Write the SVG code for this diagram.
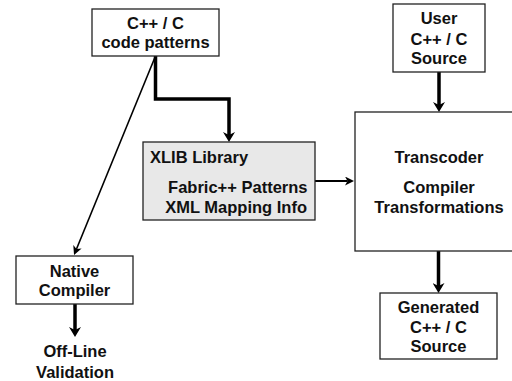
<svg xmlns="http://www.w3.org/2000/svg" width="512" height="381" viewBox="0 0 512 381">
  <defs>
    <style>
      .box { fill: #ffffff; stroke: #222222; stroke-width: 1.3; }
      .lib { fill: #e8e8e8; stroke: #222222; stroke-width: 1.3; }
      .lbl { font-family: "Liberation Sans", Arial, sans-serif; font-weight: bold; font-size: 16.5px; fill: #111111; text-anchor: middle; }
      .thick { fill: none; stroke: #000000; stroke-width: 3.5; }
      .thin { fill: none; stroke: #000000; stroke-width: 1.6; }
      .mid { fill: none; stroke: #000000; stroke-width: 2; }
    </style>
    <marker id="head" viewBox="0 0 10 12" markerWidth="10" markerHeight="12" refX="3" refY="6" orient="auto" markerUnits="userSpaceOnUse">
      <path d="M0,0 L10,6 L0,12 L3,6 z" fill="#000000"/>
    </marker>
    <marker id="head-s" viewBox="0 0 9 9" markerWidth="9" markerHeight="9" refX="2.5" refY="4.5" orient="auto" markerUnits="userSpaceOnUse">
      <path d="M0,0 L9,4.5 L0,9 L2.5,4.5 z" fill="#000000"/>
    </marker>
  </defs>

  <rect width="512" height="381" fill="#ffffff"/>

  <!-- connectors -->
  <g id="connectors">
    <path class="thick" d="M155.5,56 V99 H229 V135" marker-end="url(#head)"/>
    <path class="thin" d="M155.5,56 L76.5,249" marker-end="url(#head-s)"/>
    <path class="mid" d="M315,181 H347.5" marker-end="url(#head-s)"/>
    <path class="thick" d="M439,72 V105" marker-end="url(#head)"/>
    <path class="thick" d="M438.5,251 V286" marker-end="url(#head)"/>
    <path class="thick" d="M75,304 V330" marker-end="url(#head)"/>
  </g>

  <!-- nodes -->
  <g id="code-patterns">
    <rect class="box" x="92" y="9" width="127" height="47"/>
    <text class="lbl" x="155.5" y="29">C++ / C</text>
    <text class="lbl" x="155.5" y="48">code patterns</text>
  </g>

  <g id="user-source">
    <rect class="box" x="393" y="4" width="92" height="68"/>
    <text class="lbl" x="439" y="24">User</text>
    <text class="lbl" x="439" y="45">C++ / C</text>
    <text class="lbl" x="439" y="64">Source</text>
  </g>

  <g id="xlib-library">
    <rect class="lib" x="143" y="142" width="172" height="78"/>
    <text class="lbl" x="150" y="163" style="text-anchor:start">XLIB Library</text>
    <text class="lbl" x="307.5" y="193" style="text-anchor:end">Fabric++ Patterns</text>
    <text class="lbl" x="307" y="213" style="text-anchor:end">XML Mapping Info</text>
  </g>

  <g id="transcoder">
    <rect class="box" x="355" y="112" width="170" height="139"/>
    <text class="lbl" x="439" y="163">Transcoder</text>
    <text class="lbl" x="439" y="193">Compiler</text>
    <text class="lbl" x="439" y="213">Transformations</text>
  </g>

  <g id="generated-source">
    <rect class="box" x="380" y="293" width="117" height="66"/>
    <text class="lbl" x="438.5" y="313">Generated</text>
    <text class="lbl" x="438.5" y="333">C++ / C</text>
    <text class="lbl" x="438.5" y="352">Source</text>
  </g>

  <g id="native-compiler">
    <rect class="box" x="16" y="256" width="117" height="48"/>
    <text class="lbl" x="74.5" y="277">Native</text>
    <text class="lbl" x="74.5" y="296">Compiler</text>
  </g>

  <g id="offline-validation">
    <text class="lbl" x="75" y="357">Off-Line</text>
    <text class="lbl" x="75" y="377.5">Validation</text>
  </g>
</svg>
